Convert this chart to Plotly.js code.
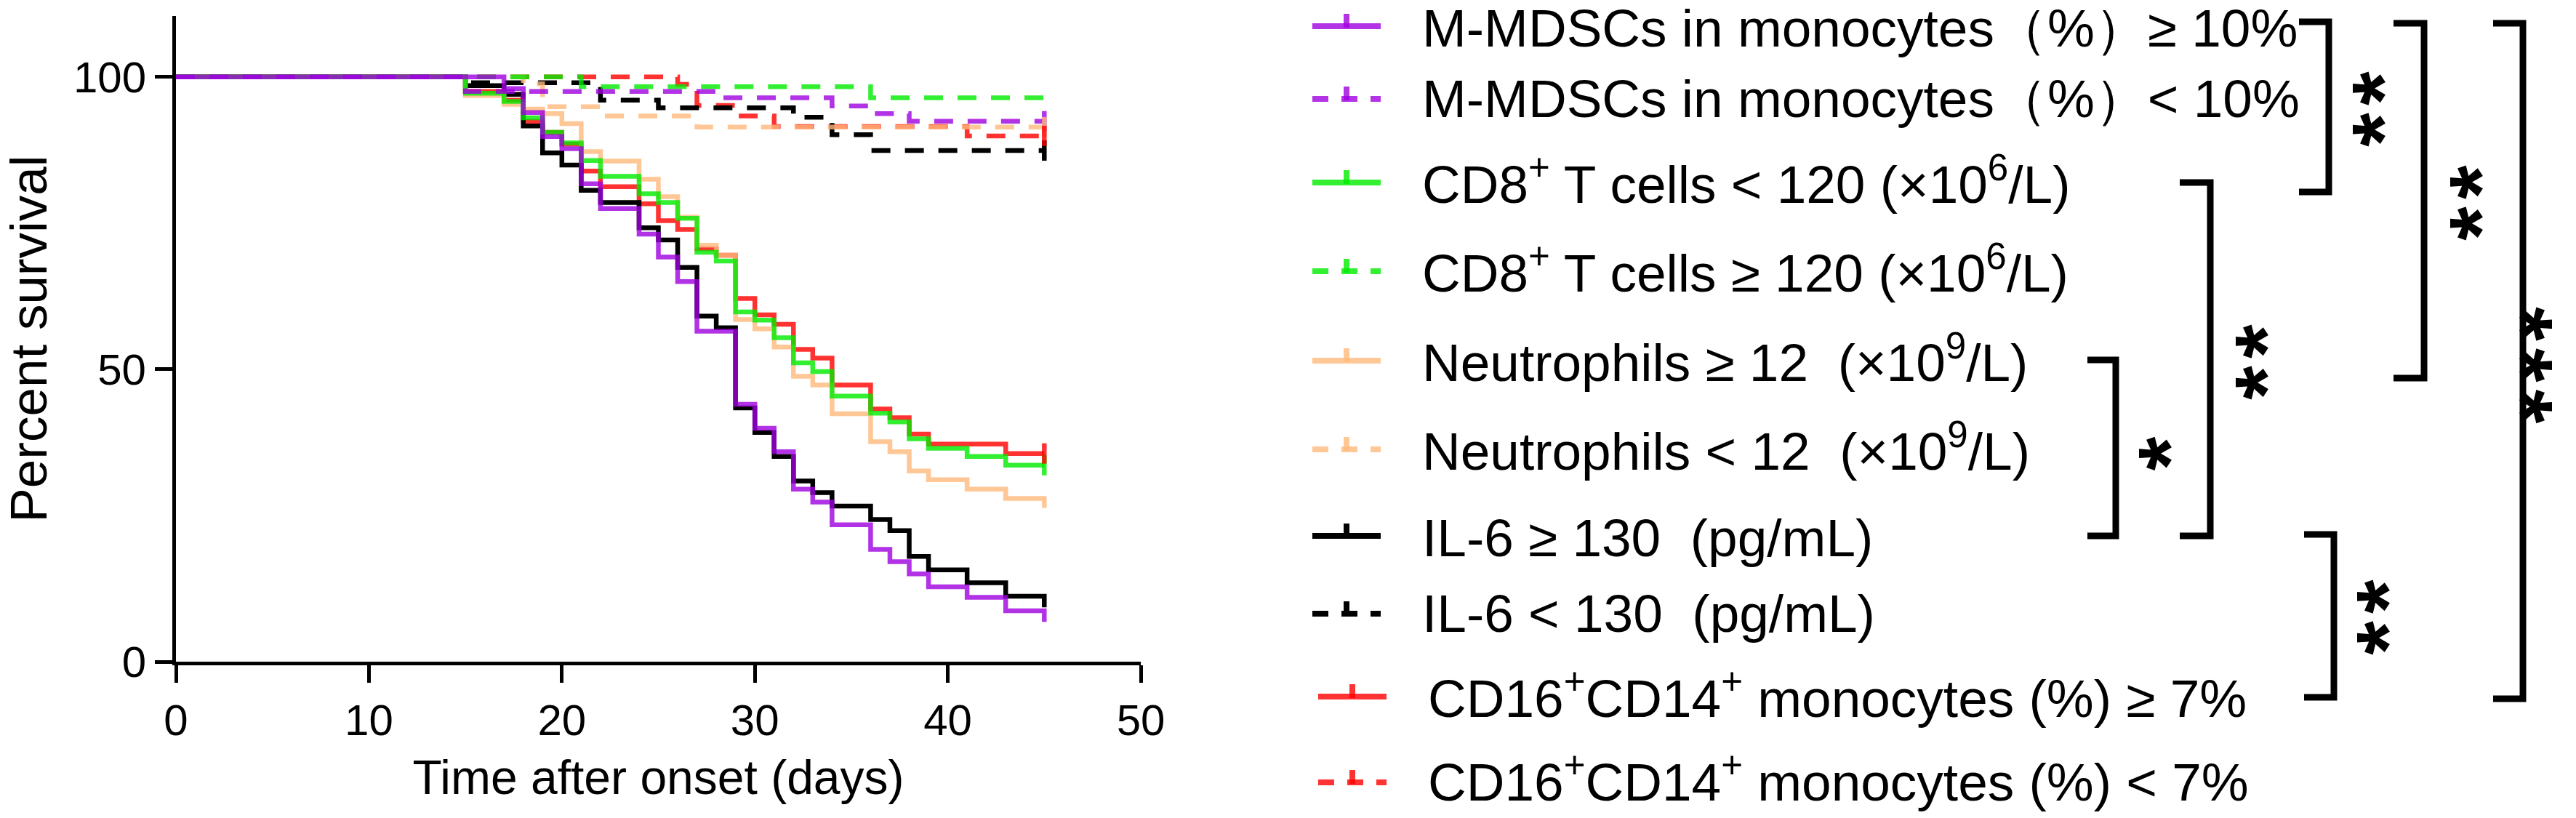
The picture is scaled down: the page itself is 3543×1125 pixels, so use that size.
<!DOCTYPE html>
<html>
<head>
<meta charset="utf-8">
<script src="https://cdn.plot.ly/plotly-3.0.1.min.js"></script>
<style>
html,body{margin:0;padding:0;background:#ffffff;}
#chart{width:3543px;height:1125px;}
</style>
</head>
<body>
<div id="chart"></div>
<script>
// ---------------- data ----------------
// M-MDSCs in monocytes (%) >= 10%
const mmdscHighT = [0, 17, 18, 19, 20, 21, 22, 24, 25, 26, 27, 29, 30, 31, 32, 33, 34, 36, 37, 38, 39, 41, 43, 45];
const mmdscHighS = [100, 98.0, 93.9, 89.8, 87.7, 81.7, 77.5, 73.1, 69.2, 65.0, 56.5, 44.0, 39.9, 35.9, 29.5, 27.3, 23.4, 19.2, 17.1, 15.0, 12.8, 11.0, 8.7, 6.8];
// M-MDSCs in monocytes (%) < 10%
const mmdscLowT = [0, 15, 28, 34, 36, 38, 45];
const mmdscLowS = [100, 97.5, 96.4, 95.0, 93.7, 92.4, 92.4];
// CD8+ T cells < 120
const cd8LowT = [0, 15, 17, 18, 19, 20, 21, 22, 24, 25, 26, 27, 28, 29, 30, 31, 32, 33, 34, 36, 37, 38, 39, 41, 43, 45];
const cd8LowS = [100, 97.2, 95.8, 93.0, 90.5, 88.7, 85.7, 83.0, 80.0, 78.5, 75.8, 70.0, 68.5, 59.8, 58.4, 55.4, 51.1, 49.6, 45.4, 42.5, 41.0, 38.1, 36.5, 35.1, 33.6, 33.6];
// CD8+ T cells >= 120
const cd8HighT = [0, 21, 36, 45];
const cd8HighS = [100, 98.3, 96.4, 94.5];
// Neutrophils >= 12
const neutHighT = [0, 15, 17, 18, 19, 20, 21, 22, 24, 25, 26, 27, 28, 29, 30, 31, 32, 33, 34, 36, 37, 38, 39, 41, 43, 45];
const neutHighS = [100, 96.8, 95.3, 94.5, 93.7, 92.0, 87.2, 85.6, 82.5, 79.5, 76.0, 71.2, 69.5, 58.5, 56.9, 53.8, 48.8, 47.3, 42.4, 37.6, 35.9, 32.6, 31.1, 29.5, 27.9, 26.3];
// Neutrophils < 12
const neutLowT = [0, 18, 19, 22, 27, 45];
const neutLowS = [100, 98.8, 94.9, 93.3, 91.4, 91.4];
// IL-6 >= 130
const il6HighT = [0, 15, 17, 18, 19, 20, 21, 22, 24, 25, 26, 27, 28, 29, 30, 31, 32, 33, 34, 36, 37, 38, 39, 41, 43, 45];
const il6HighS = [100, 98.5, 97.0, 91.6, 87.0, 84.9, 80.6, 78.5, 74.2, 72.1, 67.4, 59.1, 57.1, 43.4, 39.2, 35.1, 30.9, 28.9, 26.6, 24.3, 22.4, 18.0, 15.7, 13.5, 11.2, 9.3];
// IL-6 < 130
const il6LowT = [0, 15, 22, 25, 32, 34, 36, 45];
const il6LowS = [100, 99.0, 96.0, 94.7, 93.1, 90.1, 87.4, 87.4];
// CD16+CD14+ monocytes (%) >= 7%
const cd16HighT = [0, 15, 17, 18, 19, 20, 21, 22, 24, 25, 26, 27, 28, 29, 30, 31, 32, 33, 34, 36, 37, 38, 39, 43, 45];
const cd16HighS = [100, 97.5, 96.0, 92.4, 90.5, 88.5, 83.9, 81.2, 78.3, 75.4, 73.9, 70.6, 69.5, 62.1, 59.3, 57.7, 53.4, 51.9, 47.3, 43.2, 41.7, 38.9, 37.2, 35.6, 35.6];
// CD16+CD14+ monocytes (%) < 7%
const cd16LowT = [0, 26, 27, 29, 31, 41, 45];
const cd16LowS = [100, 98.7, 95.1, 93.3, 91.5, 89.9, 89.9];

const legendLabels = [
  "M-MDSCs in monocytes（%）≥ 10%",
  "M-MDSCs in monocytes（%）< 10%",
  "CD8<sup>+</sup> T cells < 120 (×10<sup>6</sup>/L)",
  "CD8<sup>+</sup> T cells ≥ 120 (×10<sup>6</sup>/L)",
  "Neutrophils ≥ 12 \u00A0(×10<sup>9</sup>/L)",
  "Neutrophils < 12 \u00A0(×10<sup>9</sup>/L)",
  "IL-6 ≥ 130 \u00A0(pg/mL)",
  "IL-6 < 130 \u00A0(pg/mL)",
  "CD16<sup>+</sup>CD14<sup>+</sup> monocytes (%) ≥ 7%",
  "CD16<sup>+</sup>CD14<sup>+</sup> monocytes (%) < 7%"
];
const xTickVals = [0, 10, 20, 30, 40, 50];
const yTickVals = [0, 50, 100];
const significance = ["**", "**", "***", "**", "*", "**"];

// ---------------- styling ----------------
const FONT = "Liberation Sans, Arial, Helvetica, sans-serif";
const PURPLE = "#A000E0", GREEN = "#00EC00", ORANGE = "#FFBA7C", BLACK = "#000000", RED = "#FF0000";
const DASH = "26px,20px";
const LW = 6.5;

const series = [
  {t: mmdscHighT, s: mmdscHighS, color: PURPLE, dashed: false, censorEnd: false},
  {t: mmdscLowT,  s: mmdscLowS,  color: PURPLE, dashed: true,  censorEnd: true},
  {t: cd8LowT,    s: cd8LowS,    color: GREEN,  dashed: false, censorEnd: true},
  {t: cd8HighT,   s: cd8HighS,   color: GREEN,  dashed: true,  censorEnd: false},
  {t: neutHighT,  s: neutHighS,  color: ORANGE, dashed: false, censorEnd: false},
  {t: neutLowT,   s: neutLowS,   color: ORANGE, dashed: true,  censorEnd: true},
  {t: il6HighT,   s: il6HighS,   color: BLACK,  dashed: false, censorEnd: false},
  {t: il6LowT,    s: il6LowS,    color: BLACK,  dashed: true,  censorEnd: true},
  {t: cd16HighT,  s: cd16HighS,  color: RED,    dashed: false, censorEnd: true},
  {t: cd16LowT,   s: cd16LowS,   color: RED,    dashed: true,  censorEnd: true}
];
function alphaOf(c){ return c === BLACK ? 1 : 0.8; }
function rgba(hex, a){
  const r = parseInt(hex.slice(1,3),16), g = parseInt(hex.slice(3,5),16), b = parseInt(hex.slice(5,7),16);
  return "rgba(" + r + "," + g + "," + b + "," + a + ")";
}

const traces = [];
// draw in reverse legend order so that the first groups end up on top
for (let i = series.length - 1; i >= 0; i--) {
  const sr = series[i];
  traces.push({
    type: "scatter", mode: "lines", x: sr.t, y: sr.s,
    line: {shape: "hv", color: sr.color, width: LW, dash: sr.dashed ? DASH : "solid"},
    opacity: alphaOf(sr.color), hoverinfo: "skip", showlegend: false, cliponaxis: false
  });
}
// censor tick marks at the end of follow-up
const cx = [], cy = [], cc = [];
series.forEach(sr => {
  if (sr.censorEnd) {
    cx.push(sr.t[sr.t.length - 1]);
    cy.push(sr.s[sr.s.length - 1]);
    cc.push(rgba(sr.color, alphaOf(sr.color)));
  }
});
traces.push({
  type: "scatter", mode: "markers", x: cx, y: cy,
  marker: {symbol: "line-ns", size: 20, color: cc, line: {width: LW, color: cc}},
  hoverinfo: "skip", showlegend: false, cliponaxis: false
});

// ---------------- pixel -> paper helpers ----------------
const W = 3543, H = 1125;
const PL = 242, PR = 1569, PT = 22, PB = 910;
const px = v => (v - PL) / (PR - PL);
const py = v => (PB - v) / (PB - PT);

const shapes = [];
const annotations = [];

// manual legend
const sampleY = [36, 136, 251, 373, 496, 618, 737, 844, 958, 1076];
const textY   = [39, 135, 258, 380, 503, 625, 739, 843, 965, 1080];
legendLabels.forEach((lab, i) => {
  const sr = series[i];
  const dx = (i >= 8) ? 8 : 0;
  const col = rgba(sr.color, alphaOf(sr.color));
  shapes.push({type: "line", xref: "paper", yref: "paper",
    x0: px(1805 + dx), x1: px(1899 + dx), y0: py(sampleY[i]), y1: py(sampleY[i]),
    line: {color: col, width: 8, dash: sr.dashed ? "22px,18px" : "solid"}});
  shapes.push({type: "line", xref: "paper", yref: "paper",
    x0: px(1852 + dx), x1: px(1852 + dx), y0: py(sampleY[i] + 2), y1: py(sampleY[i] - 17),
    line: {color: col, width: 8}});
  const hasSup = lab.indexOf("<sup>") >= 0;
  annotations.push({xref: "paper", yref: "paper", x: px(1954 + dx), y: py(textY[i] - (hasSup ? 10 : 0)),
    xanchor: "left", yanchor: "middle", showarrow: false, text: lab,
    font: {family: FONT, size: 73, color: "#000"}});
});

// significance brackets: left x, vertical x, top y, bottom y, star glyph centre x, star centres y
const brackets = [
  {l: 3162, v: 3203, t: 30,  b: 264, sx: 3249, sy: [123, 176], ang: -90},
  {l: 3292, v: 3334, t: 32,  b: 520, sx: 3383, sy: [252, 305], ang: -90},
  {l: 3429, v: 3470, t: 32,  b: 961, sx: 3497, sy: [449, 502, 555], ang: 90},
  {l: 2998, v: 3040, t: 251, b: 737, sx: 3087, sy: [471, 524], ang: -90},
  {l: 2871, v: 2910, t: 495, b: 737, sx: 2955, sy: [624], ang: -90},
  {l: 3169, v: 3210, t: 735, b: 959, sx: 3254, sy: [822, 875], ang: -90}
];
const STAR = 120;
const STAR_OFF = 0.235 * STAR;   // the asterisk sits above the middle of its text box
brackets.forEach((br, k) => {
  shapes.push({type: "path", xref: "paper", yref: "paper",
    path: "M" + px(br.l) + "," + py(br.t) + " L" + px(br.v) + "," + py(br.t) +
          " L" + px(br.v) + "," + py(br.b) + " L" + px(br.l) + "," + py(br.b),
    line: {color: "#000", width: 9}});
  const cyMid = br.sy.reduce((a, b) => a + b, 0) / br.sy.length;
  const boxX = br.ang === 90 ? br.sx - STAR_OFF : br.sx + STAR_OFF;
  annotations.push({xref: "paper", yref: "paper", x: px(boxX), y: py(cyMid),
    xanchor: "center", yanchor: "middle", showarrow: false,
    text: significance[k].split("").join("\u200A"),
    textangle: br.ang,
    font: {family: FONT, size: STAR, color: "#000", weight: "bold"}});
});

const layout = {
  width: W, height: H,
  margin: {l: PL, r: W - PR, t: PT, b: H - PB, pad: 0},
  paper_bgcolor: "#ffffff", plot_bgcolor: "#ffffff",
  showlegend: false,
  font: {family: FONT, color: "#000"},
  xaxis: {
    range: [0, 50], tickvals: xTickVals, ticktext: xTickVals.map(String),
    showline: true, linewidth: 5, linecolor: "#000", mirror: false,
    ticks: "outside", ticklen: 24, tickwidth: 5, tickcolor: "#000",
    showgrid: false, zeroline: false,
    tickfont: {family: FONT, size: 60, color: "#000"},
    title: {text: "Time after onset (days)", font: {family: FONT, size: 66, color: "#000"}, standoff: 24},
    automargin: false
  },
  yaxis: {
    range: [0, 110.4], tickvals: yTickVals, ticktext: yTickVals.map(String),
    showline: true, linewidth: 5, linecolor: "#000",
    ticks: "outside", ticklen: 24, tickwidth: 5, tickcolor: "#000",
    showgrid: false, zeroline: false,
    tickfont: {family: FONT, size: 60, color: "#000"},
    title: {text: "Percent survival", font: {family: FONT, size: 71, color: "#000"}, standoff: 36},
    automargin: false
  },
  shapes: shapes,
  annotations: annotations
};

Plotly.newPlot("chart", traces, layout, {staticPlot: true, displayModeBar: false});
</script>
</body>
</html>
